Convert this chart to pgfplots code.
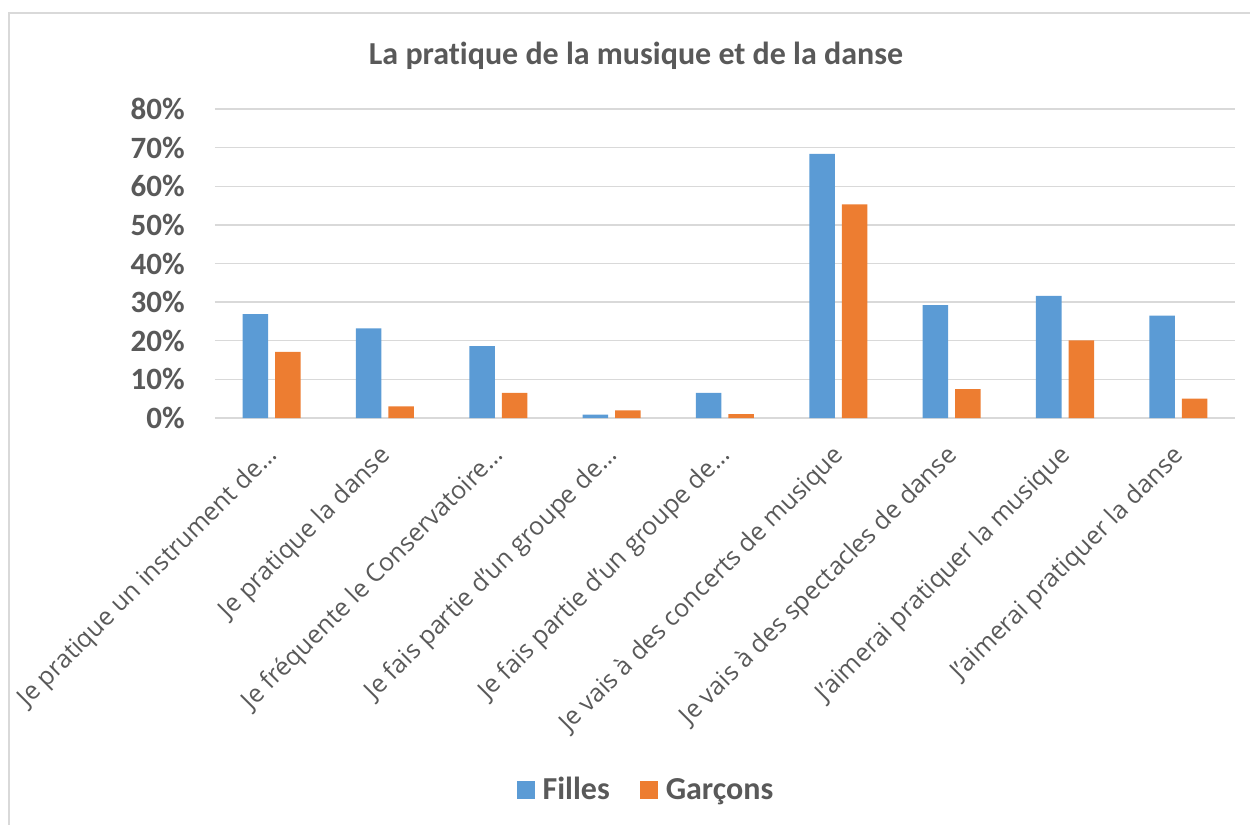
\documentclass[border=0pt]{standalone}
\usepackage{fontspec}
\setmainfont{Carlito}[Ligatures={NoCommon}]
\newfontfamily\osans{Open Sans}[Ligatures={NoCommon}]
\usepackage{pgfplots}
\pgfplotsset{compat=1.18}
\definecolor{fblue}{HTML}{5B9BD5}
\definecolor{gorange}{HTML}{ED7D31}
\definecolor{txt}{HTML}{595959}
\definecolor{gridc}{HTML}{D9D9D9}
\begin{document}
\begin{tikzpicture}[x=1pt,y=1pt]
\useasboundingbox (0,0) rectangle (625,-412.5);
\draw[gridc, line width=0.75pt] (4.5,-412.5) -- (4.5,-6.5) -- (625,-6.5);
\begin{axis}[
  at={(107.5pt,-209pt)}, anchor=south west,
  scale only axis, width=510pt, height=154.5pt,
  ybar=3.5pt, bar width=12.75pt,
  xmin=-0.5, xmax=8.5, ymin=0, ymax=80,
  xtick={0,...,8},
  xticklabels={Je pratique un instrument de…, Je pratique la danse, Je fréquente le Conservatoire…, Je fais partie d’un groupe de…, Je fais partie d’un groupe de…, Je vais à des concerts de musique, Je vais à des spectacles de danse, J’aimerai pratiquer la musique, J’aimerai pratiquer la danse},
  ytick={0,10,...,80},
  yticklabels={0\%,10\%,20\%,30\%,40\%,50\%,60\%,70\%,80\%},
  axis line style={draw=none},
  ymajorgrids, grid style={gridc, line width=0.65pt},
  major tick length=0pt, tick style={draw=none},
  yticklabel style={font=\fontsize{15.5}{18}\selectfont\bfseries, text=txt, anchor=east, inner sep=0pt, xshift=-15pt},
  xticklabel style={font=\osans\fontsize{12.5}{15}\selectfont, text=txt, xshift=1pt, yshift=-17pt, rotate=45, anchor=east, inner sep=0pt},
  legend style={at={(0.4235,-1.204)}, anchor=center, draw=none, legend columns=2,
    font=\fontsize{16}{19}\selectfont\bfseries, text=txt,
    /tikz/every even column/.append style={column sep=13pt},
    /tikz/every odd column/.append style={column sep=2pt}},
  legend image code/.code={\fill[#1] (0pt,-4.5pt) rectangle (9pt,4.5pt);},
]
\addplot[fill=fblue, draw=none] coordinates {(0,26.9) (1,23.2) (2,18.6) (3,0.9) (4,6.5) (5,68.4) (6,29.2) (7,31.6) (8,26.5)};
\addplot[fill=gorange, draw=none] coordinates {(0,17.1) (1,3.0) (2,6.5) (3,2.0) (4,1.0) (5,55.3) (6,7.5) (7,20.1) (8,5.0)};
\legend{Filles, Garçons}
\end{axis}
\node[font=\fontsize{16}{19}\selectfont\bfseries, text=txt] at (318,-28) {La pratique de la musique et de la danse};
\end{tikzpicture}
\end{document}
